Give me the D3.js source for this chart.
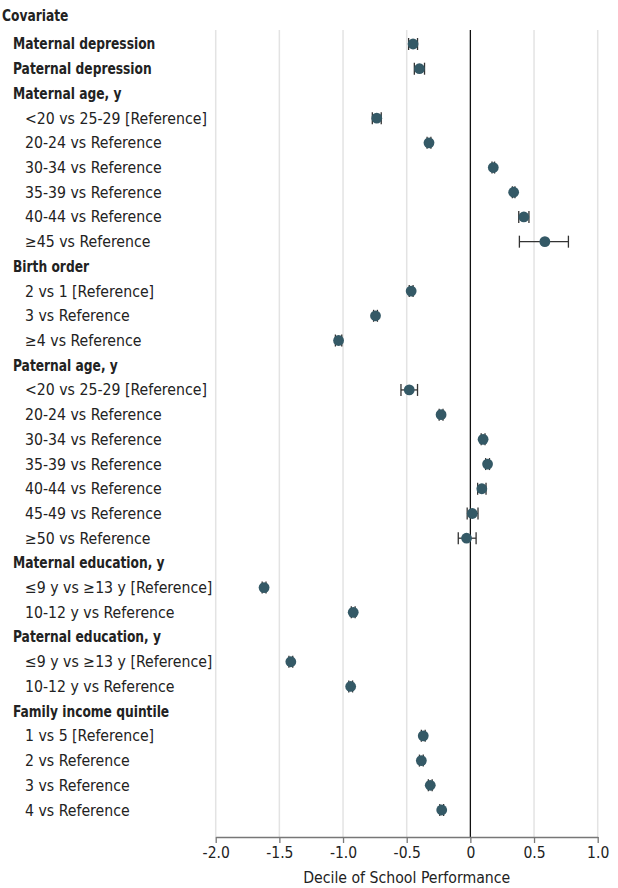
<!DOCTYPE html>
<html>
<head>
<meta charset="utf-8">
<script src="https://cdn.jsdelivr.net/npm/d3@7"></script>
<style>
  body { margin: 0; background: #fff; }
  text { font-family: "Liberation Sans Narrow", "DejaVu Sans Condensed", "Noto Sans", sans-serif; fill: #222; }
</style>
</head>
<body>
<div id="chart"></div>
<script>
// Forest plot: covariates vs decile of school performance

// row labels, top to bottom (header rows have no estimate)
const labels = [
  "Maternal depression", "Paternal depression", "Maternal age, y",
  "<20 vs 25-29 [Reference]", "20-24 vs Reference", "30-34 vs Reference",
  "35-39 vs Reference", "40-44 vs Reference", "≥45 vs Reference",
  "Birth order", "2 vs 1 [Reference]", "3 vs Reference", "≥4 vs Reference",
  "Paternal age, y", "<20 vs 25-29 [Reference]", "20-24 vs Reference",
  "30-34 vs Reference", "35-39 vs Reference", "40-44 vs Reference",
  "45-49 vs Reference", "≥50 vs Reference",
  "Maternal education, y", "≤9 y vs ≥13 y [Reference]", "10-12 y vs Reference",
  "Paternal education, y", "≤9 y vs ≥13 y [Reference]", "10-12 y vs Reference",
  "Family income quintile", "1 vs 5 [Reference]", "2 vs Reference",
  "3 vs Reference", "4 vs Reference"
];
// 0 = bold top-level, 1 = indented sub-row
const levels = [0,0,0,1,1,1,1,1,1,0,1,1,1,0,1,1,1,1,1,1,1,0,1,1,0,1,1,0,1,1,1,1];

const estimates = [
  -0.45, -0.40, null,
  -0.735, -0.325, 0.18, 0.34, 0.42, 0.585,
  null, -0.465, -0.745, -1.035,
  null, -0.48, -0.23, 0.10, 0.135, 0.09, 0.015, -0.03,
  null, -1.62, -0.92,
  null, -1.41, -0.94,
  null, -0.37, -0.385, -0.315, -0.225
];
const lower = [
  -0.485, -0.44, null,
  -0.77, -0.34, 0.17, 0.33, 0.38, 0.385,
  null, -0.48, -0.76, -1.06,
  null, -0.545, -0.245, 0.085, 0.12, 0.057, -0.025, -0.095,
  null, -1.635, -0.935,
  null, -1.425, -0.955,
  null, -0.385, -0.40, -0.33, -0.24
];
const upper = [
  -0.415, -0.36, null,
  -0.70, -0.31, 0.19, 0.35, 0.46, 0.77,
  null, -0.45, -0.73, -1.01,
  null, -0.415, -0.215, 0.115, 0.15, 0.123, 0.06, 0.045,
  null, -1.605, -0.905,
  null, -1.395, -0.925,
  null, -0.355, -0.37, -0.30, -0.21
];
const xTicks = [-2.0, -1.5, -1.0, -0.5, 0, 0.5, 1.0];

const width = 618, height = 888;
const svg = d3.select("#chart").append("svg")
  .attr("width", width)
  .attr("height", height);

const x = d3.scaleLinear().domain([-2, 1]).range([215.7, 597.7]);
const y = d3.scaleLinear().domain([0, labels.length - 1]).range([44, 810]);
const plotTop = 30, axisY = 837;

// gridlines
svg.append("g").selectAll("line")
  .data(xTicks.filter(d => d !== 0))
  .enter().append("line")
  .attr("x1", d => x(d)).attr("x2", d => x(d))
  .attr("y1", plotTop).attr("y2", axisY)
  .attr("stroke", "#e3e3e3")
  .attr("stroke-width", 1.5);

// zero line
svg.append("line")
  .attr("x1", x(0)).attr("x2", x(0))
  .attr("y1", plotTop).attr("y2", axisY)
  .attr("stroke", "#111")
  .attr("stroke-width", 1.3);

// x axis
const xAxis = d3.axisBottom(x).tickValues(xTicks).tickSize(6).tickSizeOuter(0)
  .tickFormat(d => d === 0 ? "0" : d3.format(".1f")(d).replace("−", "-"));
const gx = svg.append("g")
  .attr("transform", "translate(0," + axisY + ")")
  .call(xAxis);
gx.select(".domain").attr("stroke", "#777").attr("stroke-width", 1.3);
gx.selectAll(".tick line").attr("stroke", "#777").attr("stroke-width", 1.3);
gx.selectAll(".tick text")
  .attr("y", 10)
  .attr("font-size", "15.5px")
  .attr("font-family", null)
  .style("fill", "#222");

svg.append("text")
  .attr("x", x(-0.5))
  .attr("y", 883)
  .attr("text-anchor", "middle")
  .attr("font-size", "15.7px")
  .text("Decile of School Performance");

// bold labels are squeezed a little so they keep the reference width
const boldSqueeze = 0.88;

// column header
svg.append("text")
  .attr("transform", "translate(2,21) scale(" + boldSqueeze + ",1)")
  .attr("font-size", "15.5px")
  .attr("font-weight", "bold")
  .text("Covariate");

// row labels
svg.append("g").selectAll("text")
  .data(labels)
  .enter().append("text")
  .attr("transform", (d, i) => levels[i] === 0
    ? "translate(13," + y(i) + ") scale(" + boldSqueeze + ",1)"
    : "translate(25," + y(i) + ")")
  .attr("dy", "0.35em")
  .attr("font-size", (d, i) => levels[i] === 0 ? "15.5px" : "15.7px")
  .attr("font-weight", (d, i) => levels[i] === 0 ? "bold" : "normal")
  .text(d => d);

const rows = d3.range(labels.length).filter(i => estimates[i] !== null);

// error bars
const eb = svg.append("g").selectAll("g")
  .data(rows)
  .enter().append("g")
  .attr("stroke", "#333")
  .attr("stroke-width", 1.3);
eb.append("line")
  .attr("x1", i => x(lower[i])).attr("x2", i => x(upper[i]))
  .attr("y1", i => y(i)).attr("y2", i => y(i));
eb.append("line")
  .attr("x1", i => x(lower[i])).attr("x2", i => x(lower[i]))
  .attr("y1", i => y(i) - 6).attr("y2", i => y(i) + 6);
eb.append("line")
  .attr("x1", i => x(upper[i])).attr("x2", i => x(upper[i]))
  .attr("y1", i => y(i) - 6).attr("y2", i => y(i) + 6);

// points
svg.append("g").selectAll("circle")
  .data(rows)
  .enter().append("circle")
  .attr("cx", i => x(estimates[i]))
  .attr("cy", i => y(i))
  .attr("r", 5.4)
  .attr("fill", "#345966");
</script>
</body>
</html>
